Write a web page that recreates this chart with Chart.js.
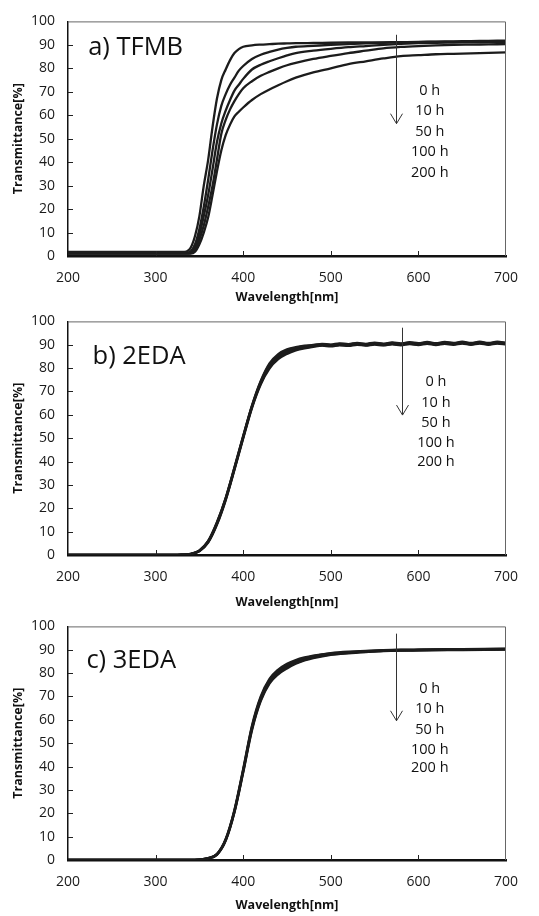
<!DOCTYPE html>
<html>
<head>
<meta charset="utf-8">
<script src="https://cdn.jsdelivr.net/npm/chart.js@4.4.0/dist/chart.umd.min.js"></script>
<style>
  body { margin: 0; background: #fff; width: 539px; height: 916px; position: relative; overflow: hidden; }
  canvas { position: absolute; left: 0; }
</style>
</head>
<body>
<canvas id="chartA" width="539" height="310" style="top:0px"></canvas>
<canvas id="chartB" width="539" height="310" style="top:300px"></canvas>
<canvas id="chartC" width="539" height="311" style="top:605px"></canvas>
<script>
var hourLabels = ["0 h", "10 h", "50 h", "100 h", "200 h"];

// a) TFMB
var waveA = [200, 330, 335, 340, 345, 350, 355, 360, 365, 370, 375, 380, 385, 390, 395, 400, 410, 420, 430, 440, 450, 460, 480, 500, 520, 540, 560, 580, 600, 620, 640, 660, 680, 700];
var tfmb0 = [1.8, 1.8, 1.9, 3.5, 8.5, 17, 30, 41, 55, 67, 75, 79.5, 83.5, 86.5, 88.2, 89.2, 89.8, 90.1, 90.3, 90.5, 90.6, 90.7, 90.8, 90.9, 91, 91.1, 91.1, 91.2, 91.2, 91.3, 91.3, 91.3, 91.4, 91.4];
var tfmb10 = [1.5, 1.5, 1.5, 2, 5, 11.5, 21, 32.5, 45, 56, 64, 69, 73, 76, 79, 81, 84, 85.8, 87, 88, 88.7, 89.2, 89.6, 90, 90.3, 90.6, 90.9, 91.1, 91.3, 91.4, 91.5, 91.6, 91.7, 91.8];
var tfmb50 = [1.2, 1.2, 1.2, 1.5, 3.5, 9, 17, 26, 37, 48.5, 56.5, 62, 66.5, 70.5, 73, 75.5, 79.5, 81.5, 83, 84.3, 85.5, 86.5, 87.5, 88.3, 89, 89.5, 90, 90.4, 90.7, 90.9, 91, 91.1, 91.2, 91.3];
var tfmb100 = [1, 1, 1, 1.2, 2.5, 7, 13, 21, 30, 41, 52, 58, 62.5, 66, 69, 71.5, 74.5, 76.8, 78.5, 80, 81.3, 82.3, 84, 85.3, 86.5, 87.5, 88.5, 89.1, 89.5, 89.8, 90, 90.1, 90.2, 90.3];
var tfmb200 = [1, 1, 1, 1, 1.8, 5, 10, 16.5, 26, 36, 45, 51.5, 56, 59.5, 61.5, 63.3, 66.5, 69, 71, 72.8, 74.5, 76, 78.3, 80, 81.8, 83, 84.2, 85.2, 85.6, 86, 86.2, 86.4, 86.6, 86.8];

// b) 2EDA
var waveB = [200, 320, 330, 340, 350, 360, 370, 380, 390, 400, 410, 420, 430, 440, 450, 460, 470, 480, 490, 500, 510, 520, 530, 540, 550, 560, 570, 580, 590, 600, 610, 620, 630, 640, 650, 660, 670, 680, 690, 700];
var eda2_0 = [0, 0, 0.1, 0.5, 2, 6, 14, 24.5, 37.5, 51, 64, 74.5, 82, 86, 88, 89, 89.6, 89.9, 90.4, 90.1, 90.6, 90.3, 90.8, 90.4, 90.9, 90.5, 91, 90.6, 91.1, 90.7, 91.2, 90.7, 91.2, 90.8, 91.3, 90.8, 91.3, 90.8, 91.3, 90.9];
var eda2_10 = [0, 0, 0.1, 0.5, 1.9, 5.9, 13.8, 24.3, 37.3, 50.8, 63.8, 74.2, 81.5, 85.5, 87.6, 88.7, 89.4, 89.7, 90.2, 89.9, 90.4, 90.1, 90.6, 90.2, 90.7, 90.3, 90.8, 90.4, 90.9, 90.5, 91, 90.5, 91, 90.6, 91.1, 90.6, 91.1, 90.6, 91.1, 90.7];
var eda2_50 = [0, 0, 0.1, 0.4, 1.8, 5.7, 13.5, 24, 37, 50.5, 63.5, 73.8, 81, 85, 87.1, 88.4, 89.1, 89.5, 90, 89.7, 90.2, 89.9, 90.4, 90, 90.5, 90.1, 90.6, 90.2, 90.7, 90.3, 90.8, 90.3, 90.8, 90.4, 90.9, 90.4, 90.9, 90.4, 90.9, 90.5];
var eda2_100 = [0, 0, 0.1, 0.4, 1.7, 5.5, 13.2, 23.7, 36.7, 50.2, 63.2, 73.4, 80.4, 84.4, 86.6, 88, 88.8, 89.3, 89.8, 89.5, 90, 89.7, 90.2, 89.8, 90.3, 89.9, 90.4, 90, 90.5, 90.1, 90.6, 90.1, 90.6, 90.2, 90.7, 90.2, 90.7, 90.2, 90.7, 90.3];
var eda2_200 = [0, 0, 0.1, 0.4, 1.6, 5.3, 12.9, 23.4, 36.4, 49.9, 62.9, 73, 79.8, 83.8, 86.1, 87.6, 88.5, 89.1, 89.6, 89.3, 89.8, 89.5, 90, 89.6, 90.1, 89.7, 90.2, 89.8, 90.3, 89.9, 90.4, 89.9, 90.4, 90, 90.5, 90, 90.5, 90, 90.5, 90.1];

// c) 3EDA
var waveC = [200, 340, 350, 360, 370, 380, 390, 400, 410, 420, 430, 440, 450, 460, 470, 480, 500, 520, 540, 560, 580, 600, 650, 700];
var eda3_0 = [0, 0, 0.2, 0.8, 2.6, 9, 21.5, 39, 57.5, 70, 77.5, 81.5, 84, 85.6, 86.7, 87.5, 88.6, 89.2, 89.5, 89.8, 90, 90.1, 90.3, 90.5];
var eda3_10 = [0, 0, 0.2, 0.8, 2.5, 8.8, 21.2, 38.6, 57, 69.5, 77, 81, 83.5, 85.2, 86.4, 87.3, 88.4, 89, 89.4, 89.7, 89.9, 90, 90.2, 90.4];
var eda3_50 = [0, 0, 0.2, 0.7, 2.4, 8.6, 20.9, 38.2, 56.5, 69, 76.5, 80.5, 83, 84.8, 86, 87, 88.2, 88.9, 89.3, 89.6, 89.8, 89.9, 90.1, 90.3];
var eda3_100 = [0, 0, 0.2, 0.7, 2.3, 8.4, 20.6, 37.8, 56, 68.5, 76, 80, 82.5, 84.4, 85.7, 86.7, 88, 88.7, 89.1, 89.5, 89.7, 89.8, 90, 90.2];
var eda3_200 = [0, 0, 0.2, 0.7, 2.2, 8.2, 20.3, 37.4, 55.5, 68, 75.5, 79.5, 82, 84, 85.4, 86.4, 87.8, 88.5, 89, 89.4, 89.6, 89.7, 89.9, 90.1];

var FONT = '"Open Sans", "Noto Sans", sans-serif';

// annotations (data units)
var decorA = { label: "a) TFMB", labelAt: [223, 88.8], arrow: [574, 94.3, 56.4], hoursX: 613, hoursY: [70.4, 61.7, 52.9, 44.2, 35.6] };
var decorB = { label: "b) 2EDA", labelAt: [228, 85], arrow: [581.5, 97.3, 59.9], hoursX: 620, hoursY: [74.1, 65.3, 56.5, 47.9, 39.9] };
var decorC = { label: "c) 3EDA", labelAt: [221, 85.4], arrow: [574.5, 96.9, 59.6], hoursX: 613, hoursY: [73.2, 64.8, 55.8, 47.2, 39.3] };

var decor = {
  id: 'decor',
  afterDraw: function (chart, args, o) {
    var ctx = chart.ctx, xs = chart.scales.x, ys = chart.scales.y, a = chart.chartArea;
    ctx.save();
    // thin frame on top and right
    ctx.strokeStyle = '#666'; ctx.lineWidth = 1;
    ctx.beginPath();
    ctx.moveTo(a.left, a.top + 0.5); ctx.lineTo(a.right - 0.5, a.top + 0.5); ctx.lineTo(a.right - 0.5, a.bottom);
    ctx.stroke();
    // inside tick marks
    ctx.strokeStyle = '#222';
    ctx.beginPath();
    [300, 400, 500, 600].forEach(function (v) {
      var px = Math.round(xs.getPixelForValue(v)) + 0.5;
      ctx.moveTo(px, a.bottom); ctx.lineTo(px, a.bottom - 5);
    });
    for (var t = 10; t < 100; t += 10) {
      var py = Math.round(ys.getPixelForValue(t)) + 0.5;
      ctx.moveTo(a.left, py); ctx.lineTo(a.left + 5, py);
    }
    ctx.stroke();
    // panel label
    ctx.fillStyle = '#111';
    ctx.font = '25.5px ' + FONT;
    ctx.textAlign = 'left'; ctx.textBaseline = 'middle';
    ctx.fillText(o.label, xs.getPixelForValue(o.labelAt[0]), ys.getPixelForValue(o.labelAt[1]));
    // arrow
    var ax = Math.round(xs.getPixelForValue(o.arrow[0])) + 0.5;
    var y1 = ys.getPixelForValue(o.arrow[1]), y2 = ys.getPixelForValue(o.arrow[2]);
    ctx.strokeStyle = '#333'; ctx.lineWidth = 1;
    ctx.beginPath();
    ctx.moveTo(ax, y1); ctx.lineTo(ax, y2);
    ctx.moveTo(ax - 6, y2 - 10); ctx.lineTo(ax, y2); ctx.lineTo(ax + 6, y2 - 10);
    ctx.stroke();
    // hour labels
    ctx.font = '14.5px ' + FONT;
    ctx.textAlign = 'center';
    hourLabels.forEach(function (h, i) {
      ctx.fillText(h, xs.getPixelForValue(o.hoursX), ys.getPixelForValue(o.hoursY[i]));
    });
    ctx.restore();
  }
};

function makeSets(waves, series) {
  return series.map(function (vals, i) {
    return {
      label: hourLabels[i],
      data: waves.map(function (w, j) { return { x: w, y: vals[j] }; }),
      borderColor: '#1c1c1c',
      borderWidth: 2.3,
      pointRadius: 0,
      cubicInterpolationMode: 'monotone',
      fill: false
    };
  });
}

function makeChart(id, waves, series, deco, p) {
  return new Chart(id, {
    type: 'line',
    data: { datasets: makeSets(waves, series) },
    plugins: [decor],
    options: {
      responsive: false,
      animation: false,
      layout: { padding: { top: p.top, right: 33, left: 0, bottom: 0 } },
      plugins: {
        legend: { display: false },
        tooltip: { enabled: false },
        decor: deco
      },
      scales: {
        x: {
          type: 'linear', min: 200, max: 700,
          afterFit: function (s) { s.height = p.xBox; },
          ticks: { stepSize: 100, padding: 14, color: '#1a1a1a', font: { family: FONT, size: 14 } },
          grid: { display: false, drawTicks: false },
          border: { color: '#111', width: 2.5 },
          title: { display: true, text: 'Wavelength[nm]', color: '#111', padding: { top: p.xTitle, bottom: p.xTitle },
                   font: { family: FONT, size: 12.5, weight: 'bold' } }
        },
        y: {
          min: 0, max: 100,
          afterFit: function (s) { s.width = 68; },
          ticks: { stepSize: 10, padding: 13, color: '#1a1a1a', font: { family: FONT, size: 14 } },
          grid: { display: false, drawTicks: false },
          border: { color: '#111', width: 1.5 },
          title: { display: true, text: 'Transmittance[%]', color: '#111', padding: { top: 10.5, bottom: 10.5 },
                   font: { family: FONT, size: 12.5, weight: 'bold' } }
        }
      }
    }
  });
}

makeChart('chartA', waveA, [tfmb0, tfmb10, tfmb50, tfmb100, tfmb200], decorA, { top: 15, xBox: 54, xTitle: 5.5 });
makeChart('chartB', waveB, [eda2_0, eda2_10, eda2_50, eda2_100, eda2_200], decorB, { top: 10, xBox: 55, xTitle: 0.5 });
makeChart('chartC', waveC, [eda3_0, eda3_10, eda3_50, eda3_100, eda3_200], decorC, { top: 9, xBox: 56, xTitle: 3.5 });
</script>
</body>
</html>
